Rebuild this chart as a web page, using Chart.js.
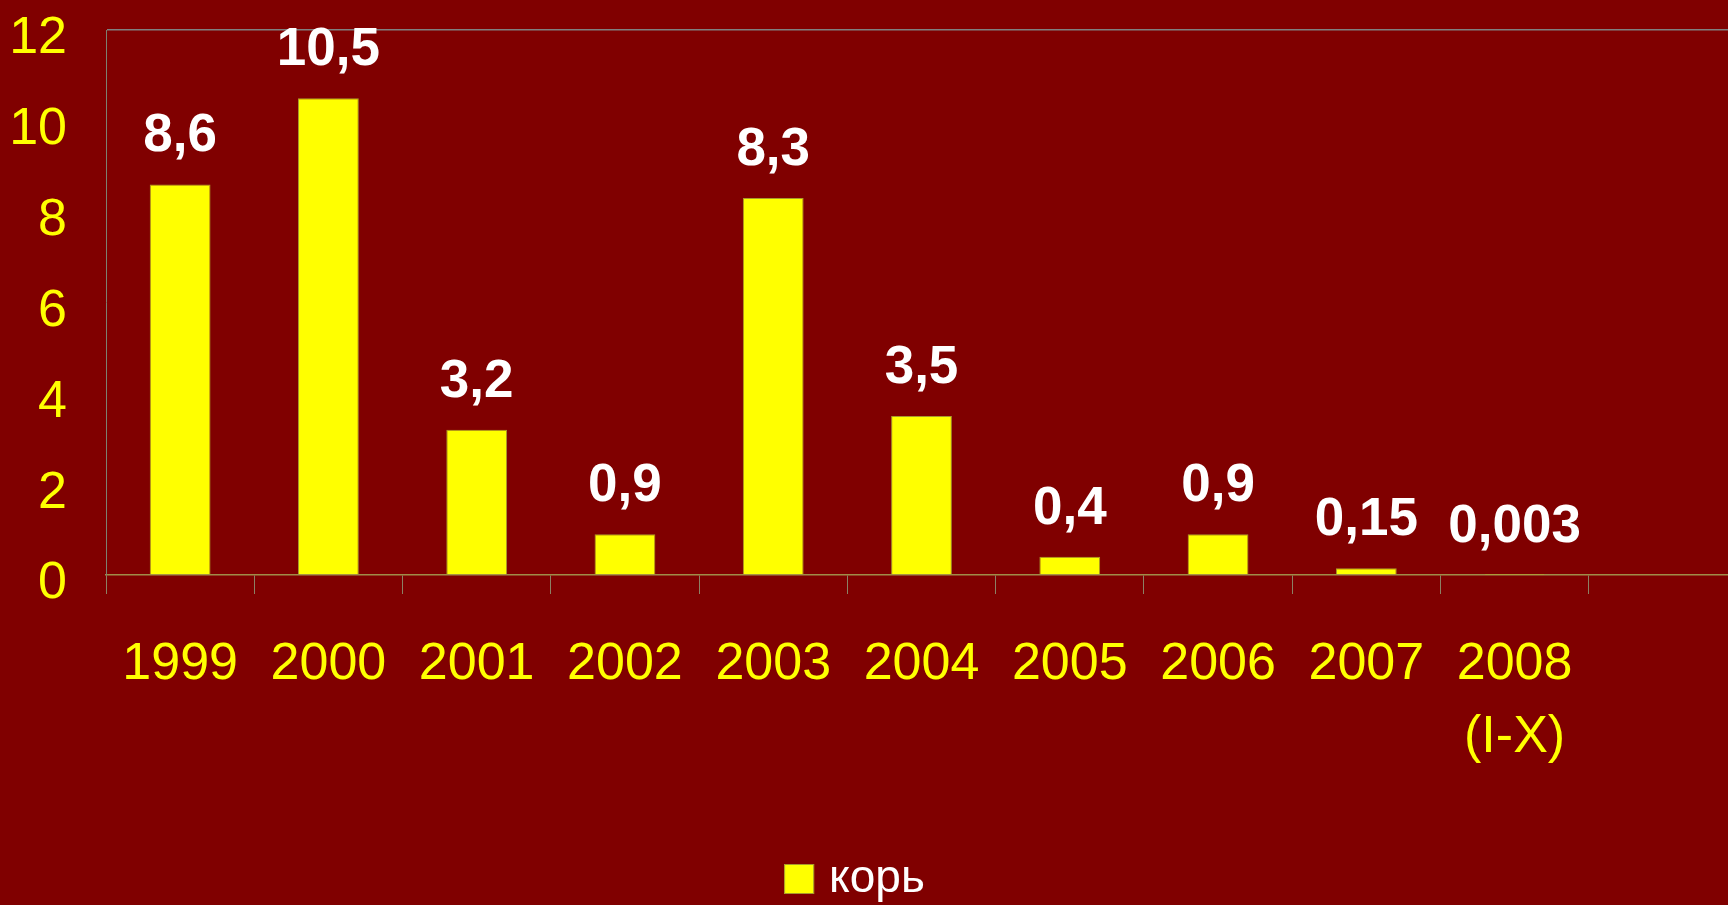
<!DOCTYPE html>
<html>
<head>
<meta charset="utf-8">
<script src="https://cdn.jsdelivr.net/npm/chart.js@4/dist/chart.umd.min.js"></script>
<style>
  html, body { margin: 0; padding: 0; background: #800000; overflow: hidden; }
  #wrap { width: 1737px; height: 912px; }
</style>
</head>
<body>
<div id="wrap"><canvas id="c" width="1737" height="912"></canvas></div>
<script>
// Measles incidence by year (per 100 000), last column left empty
const years = ['1999', '2000', '2001', '2002', '2003', '2004', '2005', '2006', '2007', ['2008', '(I-X)'], ''];
const measles = [8.6, 10.5, 3.2, 0.9, 8.3, 3.5, 0.4, 0.9, 0.15, 0.003, null];
const seriesName = 'корь';
const yTicks = { min: 0, max: 12, step: 2 };

const FONT = '"Liberation Sans", Arial, sans-serif';
const BAR_FILL = '#ffff00';
const BAR_EDGE = '#a89a2c';
const LEGEND_FONT = 46;
const LEGEND_BOX = 30;

// Value labels above each bar, written with a decimal comma
const valueLabels = {
  id: 'valueLabels',
  afterDatasetsDraw(chart) {
    const ctx = chart.ctx;
    const meta = chart.getDatasetMeta(0);
    const data = chart.data.datasets[0].data;
    ctx.save();
    ctx.fillStyle = '#ffffff';
    ctx.font = 'bold 53px ' + FONT;
    ctx.textAlign = 'center';
    ctx.textBaseline = 'alphabetic';
    meta.data.forEach((bar, i) => {
      const v = data[i];
      if (v === null || v === undefined) return;
      ctx.fillText(String(v).replace('.', ','), bar.x, bar.y - 33);
    });
    ctx.restore();
  }
};

// Legend item drawn into the slot the legend layout reserves, with a tighter box-to-text gap
const compactLegend = {
  id: 'compactLegend',
  afterDraw(chart) {
    const legend = chart.legend;
    if (!legend || !legend.legendHitBoxes || !legend.legendHitBoxes.length) return;
    const hb = legend.legendHitBoxes[0];
    const ctx = chart.ctx;
    const cy = hb.top + hb.height / 2;
    const bx = hb.left - 10;
    ctx.save();
    ctx.fillStyle = BAR_FILL;
    ctx.strokeStyle = BAR_EDGE;
    ctx.lineWidth = 1;
    ctx.fillRect(bx, cy - LEGEND_BOX / 2, LEGEND_BOX, LEGEND_BOX);
    ctx.strokeRect(bx + 0.5, cy - LEGEND_BOX / 2 + 0.5, LEGEND_BOX - 1, LEGEND_BOX - 1);
    ctx.fillStyle = '#ffffff';
    ctx.font = LEGEND_FONT + 'px ' + FONT;
    ctx.textAlign = 'left';
    ctx.textBaseline = 'middle';
    ctx.fillText(chart.data.datasets[0].label, bx + LEGEND_BOX + 15, cy);
    ctx.restore();
  }
};

new Chart(document.getElementById('c'), {
  type: 'bar',
  data: {
    labels: years,
    datasets: [{
      label: seriesName,
      data: measles,
      backgroundColor: BAR_FILL,
      borderColor: BAR_EDGE,
      borderWidth: 1,
      barPercentage: 0.41,
      categoryPercentage: 1.0
    }]
  },
  options: {
    responsive: false,
    animation: false,
    layout: { padding: { top: 30, left: 0, right: 0, bottom: 0 } },
    plugins: {
      tooltip: { enabled: false },
      legend: {
        position: 'bottom',
        labels: {
          color: 'rgba(0,0,0,0)',
          font: { family: FONT, size: LEGEND_FONT },
          boxWidth: LEGEND_BOX,
          boxHeight: LEGEND_BOX,
          padding: 10,
          generateLabels(chart) {
            return Chart.defaults.plugins.legend.labels.generateLabels(chart).map((item) => ({
              ...item,
              fillStyle: 'rgba(0,0,0,0)',
              strokeStyle: 'rgba(0,0,0,0)',
              fontColor: 'rgba(0,0,0,0)'
            }));
          }
        }
      }
    },
    scales: {
      x: {
        afterFit(scale) { scale.height = 271; },
        grid: {
          display: true,
          drawOnChartArea: false,
          drawTicks: true,
          tickLength: 19,
          color: '#8c8064',
          offset: true
        },
        border: { display: true, color: '#a08c48', width: 1.5 },
        ticks: {
          color: '#ffff00',
          font: { family: FONT, size: 52, lineHeight: 1.4 },
          padding: 34,
          autoSkip: false,
          maxRotation: 0
        }
      },
      y: {
        min: yTicks.min,
        max: yTicks.max,
        afterFit(scale) {
          scale.width = 106;
          scale.paddingTop = 0;
          scale.paddingBottom = 0;
        },
        grid: {
          drawTicks: false,
          color: (c) => (c.tick && c.tick.value === yTicks.max ? '#808080' : 'rgba(0,0,0,0)'),
          lineWidth: 1.5
        },
        border: { display: true, color: '#7c8070', width: 1 },
        ticks: {
          stepSize: yTicks.step,
          color: '#ffff00',
          font: { family: FONT, size: 52 },
          padding: 39,
          labelOffset: 9
        }
      }
    }
  },
  plugins: [valueLabels, compactLegend]
});
</script>
</body>
</html>
